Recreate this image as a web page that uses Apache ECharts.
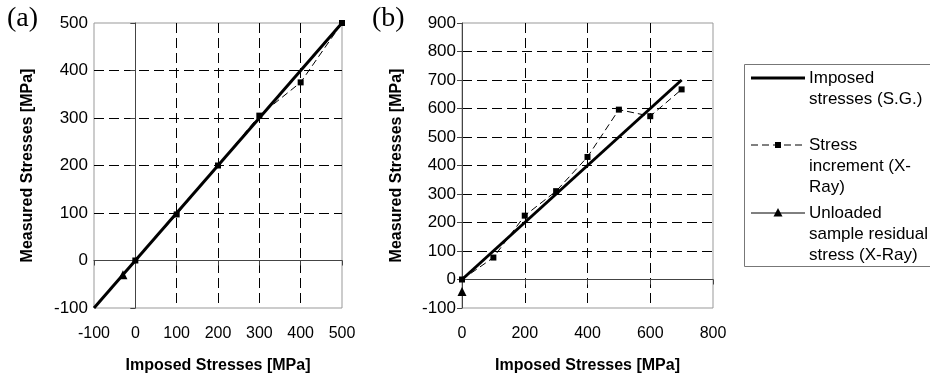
<!DOCTYPE html>
<html>
<head>
<meta charset="utf-8">
<script src="https://cdn.jsdelivr.net/npm/echarts@6/dist/echarts.min.js"></script>
<style>
  html, body { margin: 0; padding: 0; background: #fff; }
  #chart { width: 930px; height: 374px; }
</style>
</head>
<body>
<div id="chart"></div>
<script>
// (a) loading up to 500 MPa
const imposedA = [[-100, -100], [500, 500]];
const incrementA = [[0, 0], [100, 97], [200, 200], [300, 305], [400, 375], [500, 500]];
const unloadedA = [[-30, -30]];

// (b) loading up to 700 MPa
const imposedB = [[0, 0], [700, 700]];
const incrementB = [[0, 0], [100, 77], [200, 224], [300, 310], [400, 430], [500, 596], [600, 573], [700, 667]];
const unloadedB = [[0, -42]];

// axis ranges [min, max, step]
const xRangeA = [-100, 500, 100];
const yRangeA = [-100, 500, 100];
const xRangeB = [0, 800, 200];
const yRangeB = [-100, 900, 100];

const panelLabels = ['(a)', '(b)'];
const xTitle = 'Imposed Stresses [MPa]';
const yTitle = 'Measured Stresses [MPa]';
const legendNames = [
  'Imposed\nstresses (S.G.)',
  'Stress\nincrement (X-\nRay)',
  'Unloaded\nsample residual\nstress (X-Ray)',
];

const FONT = 'Liberation Sans, Arial, sans-serif';
const gridDash = { color: '#000', width: 1, type: [10, 5] };

function mainAxis(gridIndex, range, name, nameGap, isY) {
  return {
    type: 'value',
    gridIndex,
    min: range[0],
    max: range[1],
    interval: range[2],
    position: isY ? 'left' : 'bottom',
    name,
    nameLocation: 'middle',
    nameGap,
    nameTextStyle: { fontFamily: FONT, fontSize: 16, fontWeight: 'bold', color: '#000' },
    axisLine: { show: false, onZero: false },
    axisTick: { show: false },
    axisLabel: {
      color: '#000',
      fontFamily: FONT,
      fontSize: isY ? 17 : 16,
      margin: isY ? 6 : 18,
      showMinLabel: true,
      showMaxLabel: true,
    },
    splitLine: { show: true, showMinLine: false, showMaxLine: false, lineStyle: gridDash },
  };
}

function zeroAxis(gridIndex, range, isY) {
  return {
    type: 'value',
    gridIndex,
    min: range[0],
    max: range[1],
    interval: range[2],
    position: isY ? 'left' : 'bottom',
    axisLine: { show: true, onZero: true, lineStyle: { color: '#444', width: 1 } },
    axisTick: { show: true, length: 5, lineStyle: { color: '#444', width: 1 } },
    axisLabel: { show: false },
    splitLine: { show: false },
  };
}

function seriesFor(xIdx, yIdx, imposed, increment, unloaded) {
  return [
    {
      name: legendNames[0],
      type: 'line',
      xAxisIndex: xIdx,
      yAxisIndex: yIdx,
      data: imposed,
      symbol: 'none',
      lineStyle: { color: '#000', width: 3 },
      z: 3,
    },
    {
      name: legendNames[1],
      type: 'line',
      xAxisIndex: xIdx,
      yAxisIndex: yIdx,
      data: increment,
      symbol: 'rect',
      symbolSize: 6,
      itemStyle: { color: '#000' },
      lineStyle: { color: '#000', width: 1, type: [7, 4] },
      z: 4,
    },
    {
      name: legendNames[2],
      type: 'line',
      xAxisIndex: xIdx,
      yAxisIndex: yIdx,
      data: unloaded,
      symbol: 'triangle',
      symbolSize: 9,
      itemStyle: { color: '#000' },
      lineStyle: { color: '#000', width: 1 },
      z: 2,
    },
  ];
}

const legendTop = [67.5, 134.5, 202.5];
const legendLineY = [78, 145, 213];

const legendGraphic = [
  {
    type: 'rect',
    shape: { x: 744.5, y: 64.5, width: 200, height: 202 },
    style: { fill: '#fff', stroke: '#777', lineWidth: 1 },
  },
  {
    type: 'line',
    shape: { x1: 751, y1: legendLineY[0], x2: 805, y2: legendLineY[0] },
    style: { stroke: '#000', lineWidth: 3 },
  },
  {
    type: 'line',
    shape: { x1: 751, y1: legendLineY[1], x2: 805, y2: legendLineY[1] },
    style: { stroke: '#000', lineWidth: 1, lineDash: [7, 4] },
  },
  {
    type: 'rect',
    shape: { x: 775, y: legendLineY[1] - 3, width: 6, height: 6 },
    style: { fill: '#000' },
  },
  {
    type: 'line',
    shape: { x1: 751, y1: legendLineY[2], x2: 805, y2: legendLineY[2] },
    style: { stroke: '#000', lineWidth: 1 },
  },
  {
    type: 'polygon',
    shape: {
      points: [[778, legendLineY[2] - 5], [782.5, legendLineY[2] + 3.5], [773.5, legendLineY[2] + 3.5]],
    },
    style: { fill: '#000' },
  },
].concat(
  legendNames.map((name, i) => ({
    type: 'text',
    x: 809,
    y: legendTop[i],
    style: {
      text: name,
      fill: '#000',
      font: '17px ' + FONT,
      lineHeight: 21,
      verticalAlign: 'top',
    },
  })),
);

const option = {
  animation: false,
  backgroundColor: '#fff',
  textStyle: { fontFamily: FONT },
  title: panelLabels.map((text, i) => ({
    text,
    left: i === 0 ? 7 : 372,
    top: 5,
    padding: 0,
    textStyle: { fontFamily: 'Liberation Serif, Times New Roman, serif', fontSize: 28, fontWeight: 'normal', color: '#000' },
  })),
  grid: [
    { left: 94, top: 23, width: 248, height: 285, show: true, borderColor: '#999', borderWidth: 1, backgroundColor: '#fff', outerBoundsMode: 'none' },
    { left: 462, top: 23, width: 251, height: 285, show: true, borderColor: '#999', borderWidth: 1, backgroundColor: '#fff', outerBoundsMode: 'none' },
  ],
  xAxis: [
    mainAxis(0, xRangeA, xTitle, 50, false),
    zeroAxis(0, xRangeA, false),
    mainAxis(1, xRangeB, xTitle, 50, false),
    zeroAxis(1, xRangeB, false),
  ],
  yAxis: [
    mainAxis(0, yRangeA, yTitle, 58, true),
    zeroAxis(0, yRangeA, true),
    mainAxis(1, yRangeB, yTitle, 57, true),
    zeroAxis(1, yRangeB, true),
  ],
  series: seriesFor(0, 0, imposedA, incrementA, unloadedA).concat(
    seriesFor(2, 2, imposedB, incrementB, unloadedB),
  ),
  graphic: legendGraphic,
};

const chart = echarts.init(document.getElementById('chart'), null, { renderer: 'canvas' });
chart.setOption(option);
</script>
</body>
</html>
